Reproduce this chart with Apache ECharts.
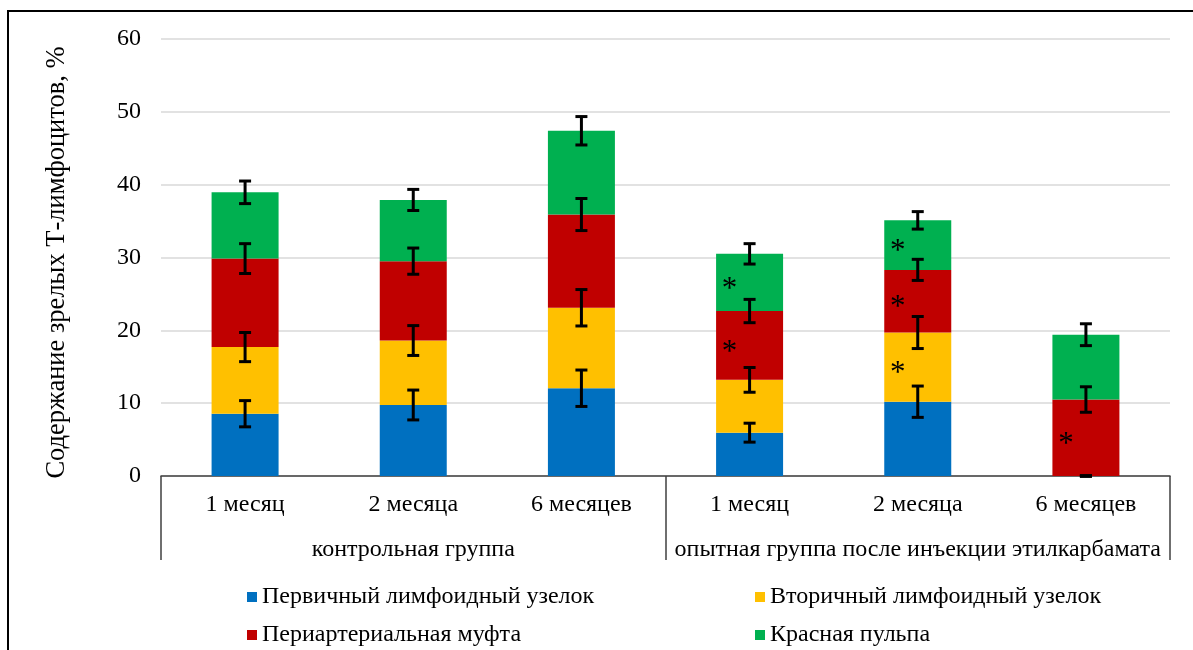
<!DOCTYPE html>
<html>
<head>
<meta charset="utf-8">
<script src="https://cdn.jsdelivr.net/npm/echarts@6/dist/echarts.min.js"></script>
<style>
html,body{margin:0;padding:0;background:#fff;}
#chart{width:1193px;height:650px;}
</style>
</head>
<body>
<div id="chart"></div>
<script>
// ---- data ----
var months = ['1 месяц', '2 месяца', '6 месяцев', '1 месяц', '2 месяца', '6 месяцев'];
var groups = ['контрольная группа', 'опытная группа после инъекции этилкарбамата'];
var seriesNames = ['Первичный лимфоидный узелок', 'Вторичный лимфоидный узелок', 'Периартериальная муфта', 'Красная пульпа'];
var yTicks = [0, 10, 20, 30, 40, 50, 60];

var primary   = [8.55, 9.75, 12.05, 5.95, 10.2, 0];
var secondary = [9.15, 8.85, 11.05, 7.25, 9.5, 0];
var periart   = [12.15, 10.9, 12.8, 9.45, 8.6, 10.5];
var redPulp   = [9.1, 8.4, 11.5, 7.85, 6.8, 8.9];

var primaryErr   = [1.8, 2.05, 2.5, 1.3, 2.15, 0];
var secondaryErr = [2.0, 2.05, 2.5, 1.7, 2.2, 0];
var periartErr   = [2.05, 1.8, 2.2, 1.6, 1.45, 1.75];
var redPulpErr   = [1.55, 1.45, 1.95, 1.4, 1.2, 1.5];

// significance marks (*)
var primarySig   = [0, 0, 0, 0, 0, 0];
var secondarySig = [0, 0, 0, 0, 1, 0];
var periartSig   = [0, 0, 0, 1, 1, 1];
var redPulpSig   = [0, 0, 0, 1, 1, 0];

var colors = ['#0070C0', '#FFC000', '#C00000', '#00B050'];
var FONT = '"Liberation Serif", "Times New Roman", serif';

var values = [primary, secondary, periart, redPulp];
var errs = [primaryErr, secondaryErr, periartErr, redPulpErr];
var sigs = [primarySig, secondarySig, periartSig, redPulpSig];

// error bar data: [categoryIndex, cumulative top, err]
var errData = [];
var cum = months.map(function () { return 0; });
values.forEach(function (arr, s) {
  arr.forEach(function (v, i) {
    cum[i] += v;
    errData.push([i, cum[i], errs[s][i]]);
  });
});

var barSeries = values.map(function (arr, s) {
  return {
    name: seriesNames[s],
    type: 'bar',
    stack: 'total',
    barWidth: 67,
    xAxisIndex: 0,
    itemStyle: { color: colors[s] },
    label: {
      show: true,
      position: 'inside',
      offset: [-20, 7],
      fontFamily: FONT,
      fontSize: 31,
      color: '#000',
      formatter: function (p) { return sigs[s][p.dataIndex] ? '*' : ''; }
    },
    data: arr
  };
});

var errSeries = {
  type: 'custom',
  xAxisIndex: 0,
  z: 10,
  silent: true,
  renderItem: function (params, api) {
    var x = api.value(0), top = api.value(1), e = api.value(2);
    var hi = api.coord([x, top + e]);
    var lo = api.coord([x, top - e]);
    var cw = 6;
    var st = { stroke: '#000', lineWidth: 3 };
    return {
      type: 'group',
      children: [
        { type: 'line', shape: { x1: hi[0], y1: hi[1], x2: lo[0], y2: lo[1] }, style: st },
        { type: 'line', shape: { x1: hi[0] - cw, y1: hi[1], x2: hi[0] + cw, y2: hi[1] }, style: st },
        { type: 'line', shape: { x1: lo[0] - cw, y1: lo[1], x2: lo[0] + cw, y2: lo[1] }, style: st }
      ]
    };
  },
  data: errData
};

function legendAt(name, left, top) {
  return {
    data: [name],
    left: left, top: top,
    padding: 0,
    icon: 'rect',
    itemWidth: 10, itemHeight: 10,
    itemGap: 6,
    selectedMode: false,
    textStyle: { fontFamily: FONT, fontSize: 24, color: '#000' }
  };
}

var chart = echarts.init(document.getElementById('chart'));
chart.setOption({
  animation: false,
  backgroundColor: '#fff',
  grid: { left: 161, right: 23, top: 39, bottom: 174, containLabel: false },
  legend: [
    legendAt(seriesNames[0], 247, 585),
    legendAt(seriesNames[1], 755, 585),
    legendAt(seriesNames[2], 247, 623),
    legendAt(seriesNames[3], 755, 623)
  ],
  xAxis: [
    {
      type: 'category',
      data: months,
      position: 'bottom',
      axisLine: { show: true, lineStyle: { color: '#404040', width: 1.5 } },
      axisTick: { show: false },
      axisLabel: { fontFamily: FONT, fontSize: 24, color: '#000', margin: 17, interval: 0 }
    },
    {
      type: 'category',
      data: groups,
      position: 'bottom',
      axisLine: { show: false },
      axisTick: { show: true, length: 84, lineStyle: { color: '#404040', width: 1.5 } },
      axisLabel: { fontFamily: FONT, fontSize: 24, color: '#000', margin: 62, interval: 0 }
    }
  ],
  yAxis: {
    type: 'value',
    min: yTicks[0], max: yTicks[yTicks.length - 1], interval: 10,
    name: 'Содержание зрелых Т-лимфоцитов, %',
    nameLocation: 'middle',
    nameGap: 90,
    nameRotate: 90,
    nameTextStyle: { fontFamily: FONT, fontSize: 26.5, color: '#000', padding: [0, 10, 0, 0] },
    axisLine: { show: false },
    axisTick: { show: false },
    splitLine: { lineStyle: { color: '#d9d9d9', width: 1.5 } },
    axisLabel: { fontFamily: FONT, fontSize: 24, color: '#000', margin: 20 }
  },
  graphic: [
    { type: 'rect', silent: true, z: 100, shape: { x: 8, y: 11, width: 1300, height: 800 }, style: { fill: 'none', stroke: '#000', lineWidth: 2 } }
  ],
  series: barSeries.concat([errSeries])
});
</script>
</body>
</html>
